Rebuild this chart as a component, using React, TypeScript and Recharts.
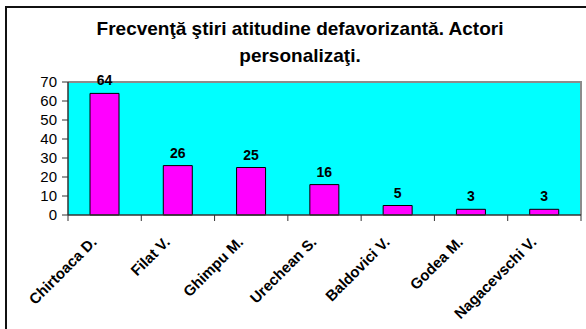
import { Bar, BarChart, LabelList, XAxis, YAxis } from 'recharts'

const actors = [
  'Chirtoaca D.',
  'Filat V.',
  'Ghimpu M.',
  'Urechean S.',
  'Baldovici V.',
  'Godea M.',
  'Nagacevschi V.',
]
const frequency = [64, 26, 25, 16, 5, 3, 3]
const yTicks = [0, 10, 20, 30, 40, 50, 60, 70]
const titleLines = ['Frecvenţă ştiri atitudine defavorizantă. Actori', 'personalizaţi.']

const rows = actors.map((name, i) => ({ name, value: frequency[i] }))

const FONT = 'Arial, "Liberation Sans", sans-serif'
const AXIS = '#333'

// chart layout
const W = 586
const H = 329
const MARGIN = { top: 82, right: 5, bottom: 113, left: 0 }
const Y_AXIS_W = 68
const X_AXIS_H = 1
const plot = {
  left: MARGIN.left + Y_AXIS_W,
  top: MARGIN.top,
  width: W - MARGIN.left - Y_AXIS_W - MARGIN.right,
  height: H - MARGIN.top - MARGIN.bottom - X_AXIS_H,
}
const band = plot.width / actors.length

// Label plus the tick marks on the category boundaries (Excel style)
function ActorTick({ x, y, payload, index }: any) {
  const half = band / 2
  const last = index === actors.length - 1
  return (
    <g>
      <line x1={x - half} x2={x - half} y1={y} y2={y + 6} stroke={AXIS} />
      {last && <line x1={x + half} x2={x + half} y1={y} y2={y + 6} stroke={AXIS} />}
      <g transform={`translate(${x - 7},${y + 28})`}>
        <text
          x={0}
          y={0}
          textAnchor="end"
          transform="rotate(-45)"
          fontFamily={FONT}
          fontSize={15}
          fontWeight="bold"
          fill="#000"
        >
          {payload.value}
        </text>
      </g>
    </g>
  )
}

export default function App() {
  return (
    <div
      style={{
        position: 'absolute',
        left: 0,
        top: 0,
        width: W,
        height: H,
        overflow: 'hidden',
        background: '#fff',
      }}
    >
      <div
        style={{
          position: 'absolute',
          left: 5,
          top: 6,
          width: 590,
          height: 340,
          borderTop: '2px solid #111',
          borderLeft: '2px solid #111',
        }}
      />
      <div
        style={{
          position: 'absolute',
          left: 14,
          top: 15,
          width: 572,
          textAlign: 'center',
          fontFamily: FONT,
          fontWeight: 'bold',
          fontSize: 19,
          lineHeight: '27px',
          color: '#000',
        }}
      >
        {titleLines.map((line) => (
          <div key={line}>{line}</div>
        ))}
      </div>
      {/* cyan plot area with the gray frame on top and right */}
      <div
        style={{
          position: 'absolute',
          boxSizing: 'border-box',
          left: plot.left,
          top: plot.top - 1,
          width: plot.width + 1,
          height: plot.height + 1,
          background: '#00FFFF',
          borderTop: '2px solid #8c8c8c',
          borderRight: '2px solid #8c8c8c',
        }}
      />
      <div style={{ position: 'absolute', left: 0, top: 0 }}>
        <BarChart width={W} height={H} data={rows} margin={MARGIN}>
          <XAxis
            dataKey="name"
            height={X_AXIS_H}
            interval={0}
            tickSize={0}
            tickMargin={0}
            tickLine={false}
            axisLine={{ stroke: AXIS, strokeWidth: 1.5 }}
            tick={<ActorTick />}
          />
          <YAxis
            width={Y_AXIS_W}
            domain={[0, 70]}
            ticks={yTicks}
            interval={0}
            tickSize={6}
            tickMargin={5}
            axisLine={{ stroke: AXIS, strokeWidth: 1.5 }}
            tickLine={{ stroke: AXIS }}
            tick={{ fill: '#000', fontSize: 15, fontFamily: FONT }}
          />
          <Bar
            dataKey="value"
            fill="#FF00FF"
            stroke="#000"
            strokeWidth={1}
            barSize={29}
            isAnimationActive={false}
          >
            <LabelList
              dataKey="value"
              position="top"
              offset={8}
              fill="#000"
              fontSize={14}
              fontWeight="bold"
              fontFamily={FONT}
            />
          </Bar>
        </BarChart>
      </div>
    </div>
  )
}
